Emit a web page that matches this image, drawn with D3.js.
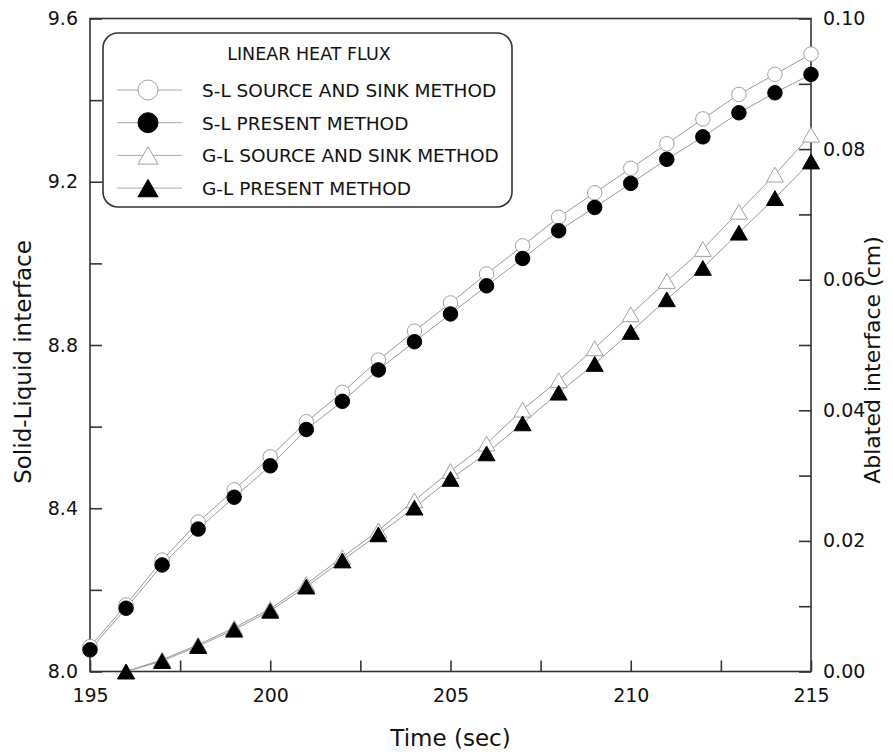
<!DOCTYPE html>
<html>
<head>
<meta charset="utf-8">
<script src="https://cdn.jsdelivr.net/npm/d3@7"></script>
<style>
  body { margin: 0; background: #fff; }
  svg { font-family: "DejaVu Sans", sans-serif; }
</style>
</head>
<body>
<svg width="893" height="755"></svg>
<script>
// time axis (sec)
var times = [195, 196, 197, 198, 199, 200, 201, 202, 203, 204, 205,
             206, 207, 208, 209, 210, 211, 212, 213, 214, 215];
var gTimes = times.slice(1); // G-L series start at 196

// solid-liquid interface (left axis)
var slSourceSink = [8.061, 8.163, 8.273, 8.366, 8.445, 8.526, 8.612, 8.684, 8.763, 8.834, 8.903,
                    8.974, 9.043, 9.113, 9.173, 9.233, 9.293, 9.354, 9.414, 9.463, 9.513];
var slPresent    = [8.053, 8.155, 8.261, 8.349, 8.427, 8.504, 8.593, 8.662, 8.739, 8.808, 8.876,
                    8.945, 9.012, 9.080, 9.137, 9.196, 9.255, 9.310, 9.369, 9.418, 9.463];

// ablated interface in cm (right axis)
var glSourceSink = [0.0000, 0.0018, 0.0041, 0.0067, 0.0096, 0.0134, 0.0175, 0.0216, 0.0262, 0.0307,
                    0.0349, 0.0401, 0.0446, 0.0495, 0.0547, 0.0598, 0.0647, 0.0704, 0.0761, 0.0822];
var glPresent    = [0.0000, 0.0016, 0.0039, 0.0064, 0.0093, 0.0130, 0.0170, 0.0210, 0.0251, 0.0295,
                    0.0334, 0.0380, 0.0427, 0.0471, 0.0520, 0.0570, 0.0618, 0.0672, 0.0725, 0.0781];

// ticks
var xTicks = [195, 197.5, 200, 202.5, 205, 207.5, 210, 212.5, 215];
var xLabels = [195, 200, 205, 210, 215];
var yLeftTicks = [8.0, 8.2, 8.4, 8.6, 8.8, 9.0, 9.2, 9.4, 9.6];
var yLeftLabels = [8.0, 8.4, 8.8, 9.2, 9.6];
var yRightTicks = [0, 0.01, 0.02, 0.03, 0.04, 0.05, 0.06, 0.07, 0.08, 0.09, 0.10];
var yRightLabels = [0, 0.02, 0.04, 0.06, 0.08, 0.10];

var legendTitle = "LINEAR HEAT FLUX";
var legendNames = ["S-L SOURCE AND SINK METHOD", "S-L PRESENT METHOD",
                   "G-L SOURCE AND SINK METHOD", "G-L PRESENT METHOD"];

var plotL = 90, plotR = 811, plotT = 18.5, plotB = 671.5;
var axisColor = "#333";
var lineColor = "#999";

var svg = d3.select("svg");

var x = d3.scaleLinear().domain([195, 215]).range([plotL, plotR]);
var yL = d3.scaleLinear().domain([8.0, 9.6]).range([plotB, plotT]);
var yR = d3.scaleLinear().domain([0, 0.10]).range([plotB, plotT]);

function hasLabel(list, v) {
    return list.some(function(l) { return Math.abs(l - v) < 1e-9; });
}

// Axes (ticks pointing inward)
var fmt1 = d3.format(".1f"), fmt2 = d3.format(".2f");

var gx = svg.append("g")
    .attr("transform", "translate(0," + plotB + ")")
    .call(d3.axisBottom(x).tickValues(xTicks).tickSizeInner(-11).tickSizeOuter(0).tickPadding(17)
        .tickFormat(function(d) { return hasLabel(xLabels, d) ? d : ""; }));

var gl = svg.append("g")
    .attr("transform", "translate(" + plotL + ",0)")
    .call(d3.axisLeft(yL).tickValues(yLeftTicks).tickSizeInner(-12).tickSizeOuter(0).tickPadding(12)
        .tickFormat(function(d) { return hasLabel(yLeftLabels, d) ? fmt1(d) : ""; }));

var gr = svg.append("g")
    .attr("transform", "translate(" + plotR + ",0)")
    .call(d3.axisRight(yR).tickValues(yRightTicks).tickSizeInner(-12).tickSizeOuter(0).tickPadding(12)
        .tickFormat(function(d) { return hasLabel(yRightLabels, d) ? fmt2(d) : ""; }));

[gx, gl, gr].forEach(function(g) {
    g.select(".domain").remove();
    g.selectAll("line").attr("stroke", axisColor).attr("stroke-width", 1.6);
    g.selectAll("text").attr("fill", "#111").style("font-size", "19px")
        .style("font-family", "'DejaVu Sans', sans-serif");
});

// frame
svg.append("rect")
    .attr("x", plotL).attr("y", plotT)
    .attr("width", plotR - plotL).attr("height", plotB - plotT)
    .attr("fill", "none").attr("stroke", axisColor).attr("stroke-width", 1.6);

// axis titles
svg.append("text")
    .attr("transform", "translate(31,362) rotate(-90)")
    .attr("text-anchor", "middle").style("font-size", "23px").attr("fill", "#111")
    .text("Solid-Liquid interface");

svg.append("text")
    .attr("transform", "translate(880,360) rotate(-90)")
    .attr("text-anchor", "middle").style("font-size", "22px").attr("fill", "#111")
    .text("Ablated interface (cm)");

svg.append("text")
    .attr("x", (plotL + plotR) / 2).attr("y", 746)
    .attr("text-anchor", "middle").style("font-size", "23px").attr("fill", "#111")
    .text("Time (sec)");

// symbols
function triPath(w) {
    var h = w * 0.87;
    return "M0," + (-h / 2) + "L" + (w / 2) + "," + (h / 2) + "L" + (-w / 2) + "," + (h / 2) + "Z";
}

var series = [
    {xs: times, ys: slSourceSink, scale: yL, shape: "circle", filled: false},
    {xs: times, ys: slPresent, scale: yL, shape: "circle", filled: true},
    {xs: gTimes, ys: glSourceSink, scale: yR, shape: "tri", filled: false},
    {xs: gTimes, ys: glPresent, scale: yR, shape: "tri", filled: true}
];

var plot = svg.append("g");

// lines first
series.forEach(function(s) {
    var pts = s.xs.map(function(t, i) { return [x(t), s.scale(s.ys[i])]; });
    plot.append("path")
        .attr("d", d3.line()(pts))
        .attr("fill", "none")
        .attr("stroke", lineColor)
        .attr("stroke-width", 1);
});

function drawMarker(g, s, px, py, size) {
    var fill = s.filled ? "#000" : "#fff";
    var stroke = s.filled ? "#000" : "#a0a0a0";
    if (s.shape === "circle") {
        g.append("circle").attr("cx", px).attr("cy", py).attr("r", size / 2)
            .attr("fill", fill).attr("stroke", stroke).attr("stroke-width", 1);
    } else {
        g.append("path").attr("d", triPath(size))
            .attr("transform", "translate(" + px + "," + py + ")")
            .attr("fill", fill).attr("stroke", stroke).attr("stroke-width", 1);
    }
}

// open markers then filled
[0, 2, 1, 3].forEach(function(k) {
    var s = series[k];
    s.xs.forEach(function(t, i) {
        drawMarker(plot, s, x(t), s.scale(s.ys[i]), s.shape === "circle" ? 14.5 : 17);
    });
});

// legend
var legend = svg.append("g");
legend.append("rect")
    .attr("x", 103).attr("y", 33).attr("width", 409).attr("height", 174)
    .attr("rx", 15).attr("ry", 15)
    .attr("fill", "#fff").attr("stroke", axisColor).attr("stroke-width", 1.6);

legend.append("text")
    .attr("x", 309).attr("y", 60)
    .attr("text-anchor", "middle").style("font-size", "17.5px").attr("fill", "#111")
    .text(legendTitle);

legendNames.forEach(function(name, i) {
    var cy = 90 + i * 32.7;
    var row = legend.append("g");
    row.append("line").attr("x1", 117).attr("x2", 182).attr("y1", cy).attr("y2", cy)
        .attr("stroke", "#aaa").attr("stroke-width", 1);
    drawMarker(row, series[i], 148, cy, 20);
    row.append("text").attr("x", 202).attr("y", cy + 7)
        .style("font-size", "18.5px").attr("fill", "#111")
        .text(name);
});
</script>
</body>
</html>
